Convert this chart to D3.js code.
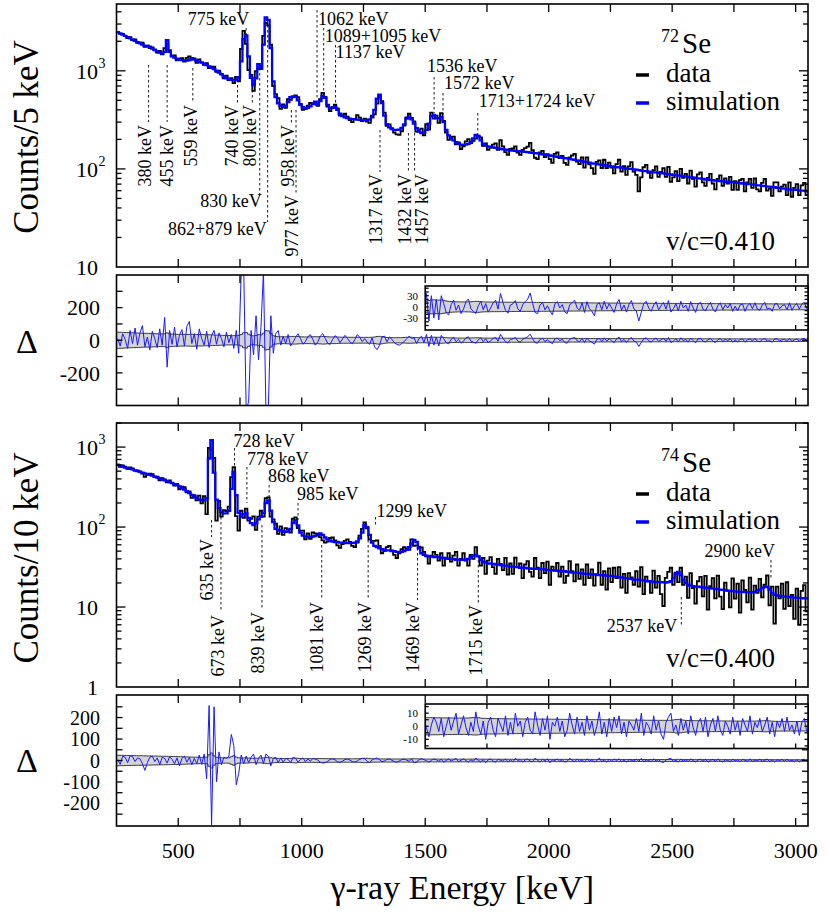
<!DOCTYPE html>
<html>
<head>
<meta charset="utf-8">
<script src="https://cdn.jsdelivr.net/npm/d3@7"></script>
<style>
  body { margin: 0; background: #fff; }
  text { font-family: "Liberation Serif", "Times New Roman", serif; fill: #000; }
</style>
</head>
<body>
<div id="chart"></div>
<script>
// spectra are 10 keV bins starting at 250 keV
const E0 = 250;
const BIN = 10;

// 72Se simulation (counts / bin)
const sim72 = [
  2480, 2410, 2340, 2270, 2205, 2140, 2080, 2020, 1960, 1905,
  1850, 1800, 1790, 1760, 1680, 1630, 1580, 1530, 1500, 1560,
  2050, 1560, 1420, 1360, 1320, 1300, 1285, 1275, 1270, 1290,
  1350, 1300, 1260, 1235, 1210, 1180, 1145, 1110, 1075, 1040,
  1000, 960, 920, 880, 845, 820, 808, 800, 808, 860,
  1250, 2100, 2300, 1400, 850, 715, 840, 1170, 1050, 1850,
  3500, 3300, 1700, 780, 540, 465, 440, 430, 440, 480,
  540, 550, 545, 500, 450, 425, 415, 420, 435, 460,
  485, 450, 490, 555, 530, 450, 415, 420, 425, 400,
  365, 345, 335, 330, 325, 322, 320, 318, 316, 315,
  315, 316, 320, 335, 400, 520, 570, 470, 350, 285,
  265, 255, 250, 250, 252, 262, 285, 325, 340, 320,
  290, 260, 240, 232, 235, 250, 290, 345, 355, 330,
  330, 340, 300, 250, 220, 205, 195, 187, 181, 177,
  176, 177, 180, 188, 205, 222, 215, 195, 180, 173,
  170, 168, 166, 164, 162, 160, 158, 157, 156, 155,
  154, 153, 152, 151, 150, 149, 148, 147, 146, 145,
  144, 142, 141, 140, 138, 137, 136, 134, 133, 132,
  130, 129, 128, 126, 125, 124, 122, 121, 120, 118,
  117, 116, 114, 113, 112, 111, 110, 109, 108, 107,
  106, 105, 104, 104, 103, 102, 101, 100, 100, 99,
  98, 97, 96, 95, 95, 94, 93, 92, 92, 91,
  90, 90, 89, 88, 88, 87, 86, 86, 85, 84,
  84, 83, 82, 82, 81, 80, 80, 79, 78, 78,
  77, 77, 76, 76, 75, 75, 74, 74, 74, 73,
  73, 72, 72, 71, 71, 70, 70, 69, 69, 68,
  68, 67, 67, 66, 66, 65, 65, 64, 64, 63,
  63, 62, 62, 61, 61, 61, 60, 60, 60, 59
];

// 72Se residual, data - simulation
const delta72 = [
  10, -35, 40, 5, -50, 60, -20, 75, -30, 45,
  90, -40, 20, -60, 55, 10, -45, 70, -30, 140,
  -165, 60, -25, 80, -40, 30, 65, -35, 85, 115,
  -20, 40, -55, 70, 10, -30, 55, -45, 30, 60,
  -25, 45, 10, -40, 50, -15, 35, -50, 60, -80,
  420, 450, -420, -380, 60, -90, 150, -120, 80, 420,
  -420, -400, 150, -80, 40, 60, -30, 25, -20, 35,
  -35, -12, 18, 40, 10, -25, -8, 22, 35, 5,
  -30, -10, 25, 40, 12, -18, -26, 5, 28, 15,
  -15, 8, 30, 12, -10, -22, 4, 35, 18, -8,
  10, -12, -25, 15, -40, -58, -30, 20, 25, -10,
  20, 6, -15, -25, -30, -20, -8, 10, 25, 12,
  15, -20, 10, 25, -15, 36, -38, 30, -30, 20,
  -35, 30, 9, -15, -22, 6, 18, -9, 5, -18,
  -6, 14, 21, -5, -12, -18, 3, 15, -8, 9,
  -14, -3, 11, 18, -6, 36, 12, -9, -17, 5,
  8, 17, -5, -12, 6, 14, 21, 37, 9, -15,
  -18, 5, 12, -8, 3, -11, -21, 8, 14, -3,
  6, -14, -18, 5, 12, 18, -3, -9, 11, -15,
  14, -5, -12, -24, 6, 11, -8, 15, -6, 9,
  -3, -15, 8, 20, -9, 5, -14, 6, 17, -5,
  -11, -38, -14, 9, 15, -3, -12, 5, 14, -8,
  3, 12, -6, 17, -14, -5, 9, -11, 15, -3,
  5, -12, 14, -3, -15, 8, 12, -6, -11, 3,
  12, -6, -14, 3, 11, -8, 6, -3, 9, -12,
  2, -11, 5, 8, -12, 3, 9, -5, 11, -6,
  -9, 5, 12, -6, -3, -12, 8, 9, -5, 3,
  6, -8, 11, -9, 3, 9, -6, 8, 12, -5
];

// 74Se simulation (counts / bin)
const sim74 = [
  600, 585, 570, 555, 545, 535, 525, 512, 500, 490,
  480, 470, 460, 450, 440, 428, 415, 405, 395, 385,
  375, 365, 355, 345, 335, 322, 310, 295, 280, 265,
  252, 240, 230, 222, 216, 214, 230, 720, 1220, 480,
  220, 172, 155, 148, 148, 160, 300, 490, 250, 150,
  135, 145, 150, 130, 112, 106, 112, 125, 135, 150,
  200, 215, 160, 115, 95, 92, 90, 88, 87, 88,
  95, 112, 122, 105, 85, 78, 76, 75, 75, 76,
  77, 80, 83, 80, 74, 70, 68, 66, 65, 65,
  64, 64, 63, 63, 63, 63, 64, 66, 72, 85,
  106, 100, 80, 64, 58, 56, 54, 53, 52, 51,
  51, 50, 50, 49, 49, 49, 50, 52, 56, 62,
  69, 65, 54, 47, 45, 44, 43, 43, 42, 42,
  42, 41, 41, 41, 40, 40, 40, 39, 39, 39,
  39, 39, 40, 42, 44, 45, 43, 39, 37, 36,
  35, 35, 34.5, 34, 34, 33.5, 33, 33, 32.5, 32,
  32, 31.5, 31.5, 31, 31, 31, 30.5, 30.5, 30, 30,
  30, 30, 29.5, 29.5, 29, 29, 29, 28.5, 28.5, 28,
  28, 28, 27.5, 27.5, 27, 27, 27, 26.5, 26.5, 26,
  26, 26, 25.5, 25.5, 25.5, 25, 25, 25, 24.5, 24.5,
  24.5, 24, 24, 23.5, 23.5, 23, 23, 22.5, 22.5, 22,
  22, 22, 21.5, 21.5, 21, 21, 21, 20.5, 20.5, 20.5,
  20.5, 20.3, 20.2, 20.5, 21, 23, 26, 27.5, 25, 22,
  20, 19, 18.5, 18.3, 18, 18, 17.8, 17.6, 17.5, 17.3,
  17.2, 17, 16.8, 16.7, 16.5, 16.4, 16.2, 16, 15.9, 15.8,
  15.7, 15.6, 15.5, 15.5, 15.4, 15.4, 15.3, 15.3, 15.5, 16,
  16.5, 17.2, 18, 17.8, 16.5, 15, 14.2, 14, 13.8, 13.6,
  13.5, 13.4, 13.3, 13.2, 13.1, 13, 13, 12.9, 12.8, 12.8
];

// 74Se residual, data - simulation
const delta74 = [
  5, -18, 20, 15, -10, 22, 18, -5, 12, 8,
  -15, -46, -10, 15, 20, -5, 12, -20, 15, 10,
  -12, 18, 5, -15, 12, -25, 10, 20, -8, 15,
  -20, 10, -15, 25, -18, 30, -85, 256, -300, 250,
  -100, 40, -20, 15, 10, 20, 121, 70, -113, -60,
  25, -15, 20, -10, 15, 30, -20, 10, 25, -15,
  30, 20, -25, 10, 15, -10, 12, -8, 10, 5,
  -10, 15, 10, -8, 5, 12, -6, 8, -4, 10,
  6, 2, -8, -12, -10, -4, 5, 8, 3, -6,
  -9, -3, 4, 7, 2, -5, -8, -2, 6, 10,
  8, -4, -10, 3, 9, 12, 4, -6, -2, 5,
  7, 1, -5, -8, -2, 4, 6, 2, -4, 8,
  -10.6, -6, 3, 8.6, 4, -1, -8, 1, 7, 3,
  -4, 6, -8, 0, 7, -3, 4, 10, -6, 1,
  8, -1, -7, 3, -4, 11, 0, -6, 4, -10,
  3, 7, -3, -8, 6, 1, -4, 8, -7, 3,
  -6, 10, 0, 4, -8, 3, 7, -3, -6, 11,
  1, -7, 6, -3, 8, -10, 3, 0, 7, -4,
  4, -8, -3, 10, 1, -6, 7, -4, 3, -7,
  8, -3, 4, -7, 0, 11, -6, 3, -8, 6,
  -4, 7, -1, 8, -6, 3, -8, 4, 1, -3,
  6, -4, 10, -7, 3, 0, -6, 8, -3, 4,
  -6, -10, 3, 7, 10, -4, 1, -7, 6, -3,
  4, -6, 8, -1, -7, 3, 6, -4, 7, -8,
  1, 6, -4, 8, -3, -7, 4, 0, -6, 7,
  -3, 4, -7, 6, 1, -4, 8, -6, 3, -1,
  6, -4, 1, 7, -6, 3, -8, 4, -1, 6,
  -4, 7, -3, 1, -6, 4, -7, 3, 6, -4
];

const xTickValues = [250, 500, 750, 1000, 1250, 1500, 1750, 2000, 2250, 2500, 2750, 3000];
const xTickLabels = [500, 1000, 1500, 2000, 2500, 3000];
const logLabels72 = [10, 100, 1000];
const logLabels74 = [1, 10, 100, 1000];
const resTicks72 = [-300, -200, -100, 0, 100, 200, 300];
const resLabels72 = [-200, 0, 200];
const resTicks74 = [-250, -200, -150, -100, -50, 0, 50, 100, 150, 200, 250];
const resLabels74 = [-200, -100, 0, 100, 200];
const insetTicks72 = [-50, -40, -30, -20, -10, 0, 10, 20, 30, 40, 50];
const insetLabels72 = [-30, 0, 30];
const insetTicks74 = [-15, -10, -5, 0, 5, 10, 15];
const insetLabels74 = [-10, 0, 10];

// peak labels: rotated ones sit under the spectrum, the others beside it
const peaks72 = [
  { e: 380, t: '380 keV', rot: true, y1: 65, y2: 122, ty: 125, dx: -4 },
  { e: 455, t: '455 keV', rot: true, y1: 65, y2: 122, ty: 125, dx: 0 },
  { e: 559, t: '559 keV', rot: true, y1: 68, y2: 103, ty: 105, dx: -2 },
  { e: 740, t: '740 keV', rot: true, y1: 85, y2: 103, ty: 105, dx: -6 },
  { e: 800, t: '800 keV', rot: true, y1: 90, y2: 103, ty: 105, dx: -3 },
  { e: 958, t: '958 keV', rot: true, y1: 110, y2: 123, ty: 125, dx: -4 },
  { e: 977, t: '977 keV', rot: true, y1: 110, y2: 193, ty: 195, dx: -4 },
  { e: 1317, t: '1317 keV', rot: true, y1: 130, y2: 172, ty: 174, dx: -4 },
  { e: 1432, t: '1432 keV', rot: true, y1: 133, y2: 172, ty: 174, dx: -4 },
  { e: 1457, t: '1457 keV', rot: true, y1: 133, y2: 172, ty: 174, dx: 7 },
  { e: 775, t: '775 keV', y1: 28, y2: 35, ty: 25, dx: 3, anchor: 'end' },
  { e: 830, t: '830 keV', y1: 68, y2: 198, ty: 207, dx: 2, anchor: 'end' },
  { e: 862, t: '862+879 keV', y1: 20, y2: 222, ty: 235, dx: -1, anchor: 'end' },
  { e: 1062, t: '1062 keV', y1: 10, y2: 100, ty: 25, dx: 1, anchor: 'start' },
  { e: 1089, t: '1089+1095 keV', y1: 28, y2: 95, ty: 42, dx: 1, anchor: 'start' },
  { e: 1137, t: '1137 keV', y1: 45, y2: 107, ty: 58, dx: 0, anchor: 'start' },
  { e: 1536, t: '1536 keV', y1: 77, y2: 113, ty: 72, dx: -7, anchor: 'start' },
  { e: 1572, t: '1572 keV', y1: 93, y2: 115, ty: 89, dx: 1, anchor: 'start' },
  { e: 1713, t: '1713+1724 keV', y1: 113, y2: 135, ty: 107, dx: 1, anchor: 'start' }
];
const peaks74 = [
  { e: 635, t: '635 keV', rot: true, y1: 520, y2: 537, ty: 539, dx: -5 },
  { e: 673, t: '673 keV', rot: true, y1: 507, y2: 612, ty: 615, dx: -3 },
  { e: 839, t: '839 keV', rot: true, y1: 525, y2: 610, ty: 612, dx: -4 },
  { e: 1081, t: '1081 keV', rot: true, y1: 545, y2: 600, ty: 602, dx: -5 },
  { e: 1269, t: '1269 keV', rot: true, y1: 535, y2: 600, ty: 602, dx: -3 },
  { e: 1469, t: '1469 keV', rot: true, y1: 548, y2: 600, ty: 602, dx: -5 },
  { e: 1715, t: '1715 keV', rot: true, y1: 560, y2: 603, ty: 605, dx: -3 },
  { e: 728, t: '728 keV', y1: 448, y2: 468, ty: 447, dx: -1, anchor: 'start' },
  { e: 778, t: '778 keV', y1: 467, y2: 503, ty: 465, dx: 0, anchor: 'start' },
  { e: 868, t: '868 keV', y1: 485, y2: 498, ty: 482, dx: -1, anchor: 'start' },
  { e: 985, t: '985 keV', y1: 503, y2: 520, ty: 500, dx: -1, anchor: 'start' },
  { e: 1299, t: '1299 keV', y1: 517, y2: 525, ty: 517, dx: 1, anchor: 'start' },
  { e: 2537, t: '2537 keV', y1: 597, y2: 627, ty: 632, dx: -4, anchor: 'end' },
  { e: 2900, t: '2900 keV', y1: 560, y2: 580, ty: 557, dx: 4, anchor: 'end' }
];

const width = 829;
const height = 917;
const X0 = 116.5;
const X1 = 808;
const LABEL_SIZE = 18;

const svg = d3.select('#chart').append('svg').attr('width', width).attr('height', height);

const x = d3.scaleLinear().domain([250, 3050]).range([X0, X1]);
const insetE = 1500;

const y72 = d3.scaleLog().domain([10, 4800]).range([267, 4]);
const r72 = d3.scaleLinear().domain([-400, 400]).range([405.5, 275]);
const i72 = d3.scaleLinear().domain([-62, 56]).range([330, 286]);
const y74 = d3.scaleLog().domain([1, 2000]).range([687, 423]);
const r74 = d3.scaleLinear().domain([-305, 305]).range([826, 695]);
const i74 = d3.scaleLinear().domain([-17, 17]).range([748.5, 704]);

let clipCount = 0;
function clipped(left, top, bottom) {
  const id = 'clip' + clipCount++;
  svg.append('clipPath').attr('id', id).append('rect')
    .attr('x', left).attr('y', top).attr('width', X1 - left).attr('height', bottom - top);
  return svg.append('g').attr('clip-path', `url(#${id})`);
}

function stepPoints(vals) {
  const pts = vals.map((v, i) => [E0 + BIN * i, v]);
  pts.push([E0 + BIN * vals.length, vals[vals.length - 1]]);
  return pts;
}

function frame(left, top, bottom) {
  svg.append('rect').attr('x', left).attr('y', top).attr('width', X1 - left).attr('height', bottom - top)
    .attr('fill', 'none').attr('stroke', '#000').attr('stroke-width', 1.6);
}

function tick(x1, y1, x2, y2) {
  svg.append('line').attr('x1', x1).attr('y1', y1).attr('x2', x2).attr('y2', y2)
    .attr('stroke', '#000').attr('stroke-width', 1.3);
}

function xTicks(top, bottom, eMin, len) {
  xTickValues.filter(t => t > eMin + 1).forEach(t => {
    tick(x(t), bottom, x(t), bottom - len);
    tick(x(t), top, x(t), top + len);
  });
}

function yTicks(y, vals, left, lenOf) {
  vals.forEach(v => {
    const len = lenOf(v);
    tick(left, y(v), left + len, y(v));
    tick(X1, y(v), X1 - len, y(v));
  });
}

function spectrum(y, sim, delta) {
  const data = sim.map((s, i) => Math.max(s + delta[i], 0.6));
  const [bottom, top] = y.range();
  const g = clipped(X0, top, bottom);
  const line = d3.line().x(d => x(d[0])).y(d => y(d[1])).curve(d3.curveStepAfter);
  g.append('path').attr('d', line(stepPoints(data)))
    .attr('fill', 'none').attr('stroke', '#000').attr('stroke-width', 1.8);
  g.append('path').attr('d', line(stepPoints(sim)))
    .attr('fill', 'none').attr('stroke', '#0000ff').attr('stroke-width', 2.3);

  frame(X0, top, bottom);
  xTicks(top, bottom, 250, 8);
  const major = v => Math.abs(Math.log10(v) - Math.round(Math.log10(v))) < 1e-9;
  yTicks(y, y.ticks().filter(v => v > y.domain()[0]), X0, v => (major(v) ? 9 : 5));
}

// residual panel: grey band is the statistical spread sqrt(simulation)
function residual(r, sim, delta, eMin) {
  const [bottom, top] = r.range();
  const left = x(eMin);
  if (eMin > 250) {
    svg.append('rect').attr('x', left).attr('y', top).attr('width', X1 - left)
      .attr('height', bottom - top).attr('fill', '#fff');
  }
  const g = clipped(left, top, bottom);
  const pts = stepPoints(sim);
  const area = d3.area().x(d => x(d[0]))
    .y0(d => r(-Math.sqrt(d[1]))).y1(d => r(Math.sqrt(d[1])))
    .curve(d3.curveStepAfter);
  g.append('path').attr('d', area(pts)).attr('fill', '#d4d4d4');
  [1, -1].forEach(s => {
    const edge = d3.line().x(d => x(d[0])).y(d => r(s * Math.sqrt(d[1]))).curve(d3.curveStepAfter);
    g.append('path').attr('d', edge(pts)).attr('fill', 'none')
      .attr('stroke', '#2a2a2a').attr('stroke-width', 0.9);
  });
  const resLine = d3.line().x((d, i) => x(E0 + BIN * (i + 0.5))).y(d => r(d));
  g.append('path').attr('d', resLine(delta)).attr('fill', 'none')
    .attr('stroke', '#1a1aff').attr('stroke-width', 1);
  frame(left, top, bottom);
  xTicks(top, bottom, eMin, eMin > 250 ? 5 : 8);
}

function annotate(list) {
  list.forEach(a => {
    const lx = x(a.e);
    svg.append('line').attr('x1', lx).attr('x2', lx).attr('y1', a.y1).attr('y2', a.y2)
      .attr('stroke', '#000').attr('stroke-width', 0.9).attr('stroke-dasharray', '2.5,2.5');
    if (a.rot) {
      svg.append('text').attr('transform', `translate(${lx + a.dx},${a.ty}) rotate(-90)`)
        .attr('text-anchor', 'end').attr('dy', '0.35em').attr('font-size', LABEL_SIZE).text(a.t);
    } else {
      svg.append('text').attr('x', lx + a.dx).attr('y', a.ty)
        .attr('text-anchor', a.anchor).attr('font-size', LABEL_SIZE).text(a.t);
    }
  });
}

function logLabels(y, vals) {
  vals.forEach(v => {
    const p = Math.round(Math.log10(v));
    const t = svg.append('text').attr('x', 98).attr('y', y(v)).attr('dy', '0.35em')
      .attr('text-anchor', 'end').attr('font-size', 22);
    if (p <= 1) {
      t.text(String(v));
    } else {
      t.text('10');
      svg.append('text').attr('x', 98.5).attr('y', y(v) - 3).attr('font-size', 14).text(String(p));
    }
  });
}

function linLabels(r, vals, xr, size) {
  vals.forEach(v => {
    svg.append('text').attr('x', xr).attr('y', r(v)).attr('dy', '0.35em')
      .attr('text-anchor', 'end').attr('font-size', size).text(String(v));
  });
}

function legend(iso, mass, vc, top) {
  svg.append('text').attr('x', 661).attr('y', top).attr('font-size', 18).text(mass);
  svg.append('text').attr('x', 682).attr('y', top + 11).attr('font-size', 29).text(iso);
  [['data', '#000', 33], ['simulation', '#0000ff', 61]].forEach(([lab, col, dy]) => {
    svg.append('line').attr('x1', 636).attr('x2', 649).attr('y1', top + dy).attr('y2', top + dy)
      .attr('stroke', col).attr('stroke-width', 3.5);
    svg.append('text').attr('x', 666).attr('y', top + dy + 7).attr('font-size', 27).text(lab);
  });
  svg.append('text').attr('x', 666).attr('y', vc[1]).attr('font-size', 27).text(vc[0]);
}

// 72Se
spectrum(y72, sim72, delta72);
annotate(peaks72);
logLabels(y72, logLabels72);
legend('Se', '72', ['v/c=0.410', 250], 42);

residual(r72, sim72, delta72, 250);
yTicks(r72, resTicks72, X0, () => 6);
linLabels(r72, resLabels72, 100, 22);
residual(i72, sim72, delta72, insetE);
yTicks(i72, insetTicks72, x(insetE), () => 3.5);
linLabels(i72, insetLabels72, 418, 11);

// 74Se
spectrum(y74, sim74, delta74);
annotate(peaks74);
logLabels(y74, logLabels74);
legend('Se', '74', ['v/c=0.400', 667], 461);

residual(r74, sim74, delta74, 250);
yTicks(r74, resTicks74, X0, () => 6);
linLabels(r74, resLabels74, 100, 20);
residual(i74, sim74, delta74, insetE);
yTicks(i74, insetTicks74, x(insetE), () => 3.5);
linLabels(i74, insetLabels74, 418, 11);

// axis titles and energy labels
xTickLabels.forEach(t => {
  svg.append('text').attr('x', x(t)).attr('y', 858).attr('text-anchor', 'middle')
    .attr('font-size', 22).text(String(t));
});
svg.append('text').attr('x', (X0 + X1) / 2).attr('y', 899).attr('text-anchor', 'middle')
  .attr('font-size', 34).text('γ-ray Energy [keV]');
svg.append('text').attr('transform', 'translate(38,137) rotate(-90)').attr('text-anchor', 'middle')
  .attr('font-size', 35).text('Counts/5 keV');
svg.append('text').attr('transform', 'translate(38,558) rotate(-90)').attr('text-anchor', 'middle')
  .attr('font-size', 35).text('Counts/10 keV');
[341, 760].forEach(yy => {
  svg.append('text').attr('x', 27).attr('y', yy).attr('dy', '0.35em').attr('text-anchor', 'middle')
    .attr('font-size', 34).text('Δ');
});
</script>
</body>
</html>
